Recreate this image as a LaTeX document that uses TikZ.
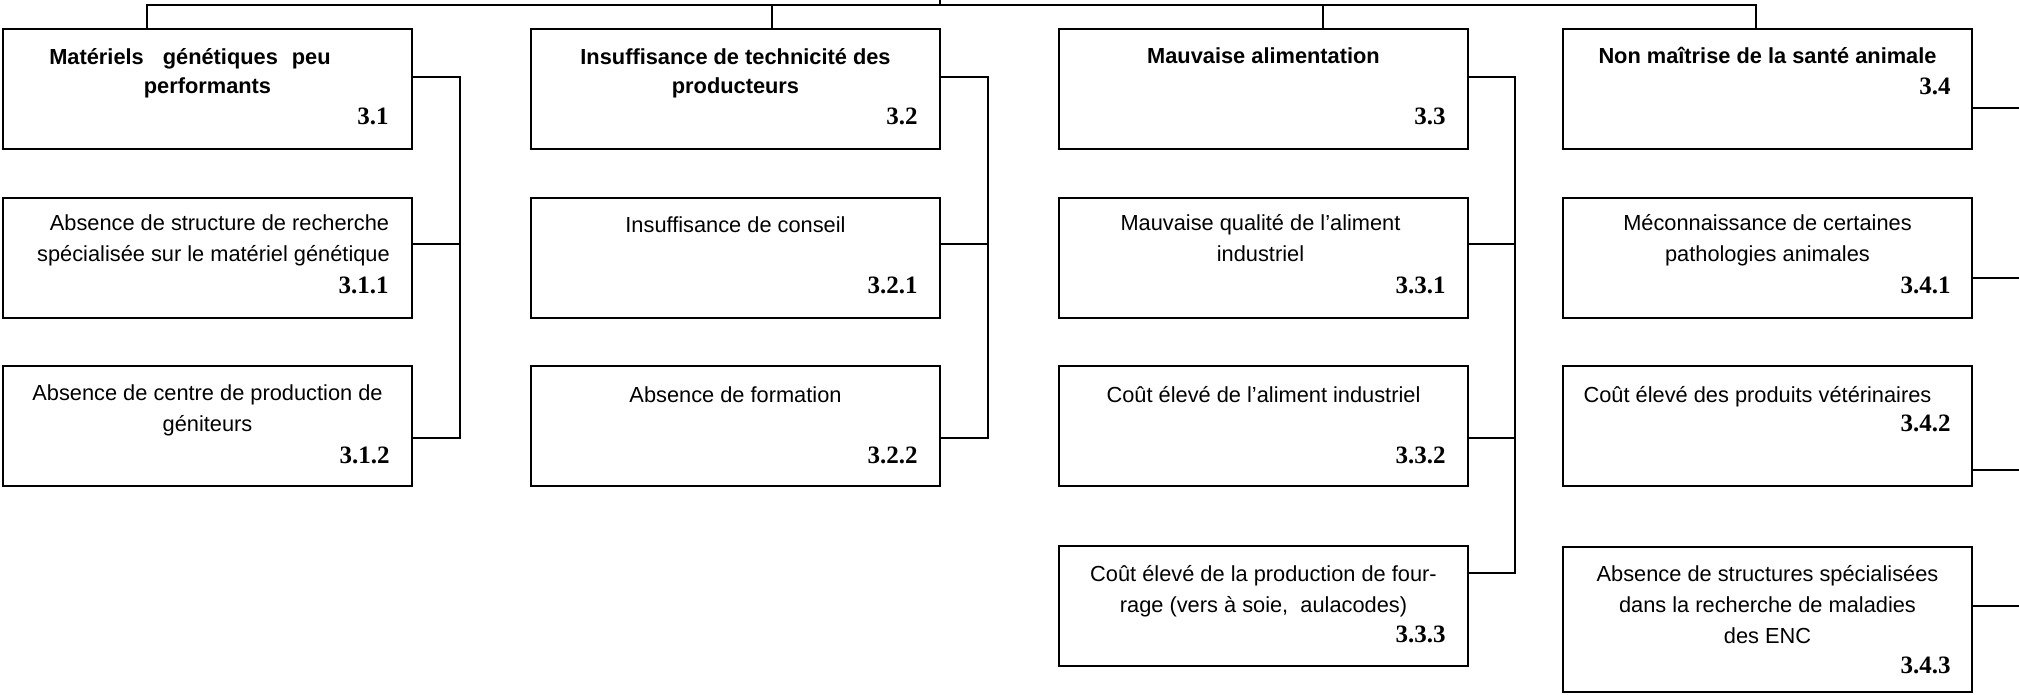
\documentclass[tikz,border=0pt]{standalone}
\usepackage{fontspec}
\setmainfont{Liberation Sans}
\newfontfamily\numfont{Liberation Serif}
\usetikzlibrary{positioning, calc}

\tikzset{
  cause/.style={draw, line width=1pt, minimum width=204.5pt, minimum height=60pt, inner sep=0pt, outer sep=0pt},
  head/.style={anchor=base, align=center, inner sep=0pt, font=\fontsize{10.9}{14.8}\selectfont\bfseries},
  txt/.style={anchor=base, align=center, inner sep=0pt, font=\fontsize{10.9}{15.5}\selectfont},
  num/.style={anchor=base east, inner sep=0pt, font=\numfont\fontsize{12.5}{15}\selectfont\bfseries},
  link/.style={line width=1pt}
}

\begin{document}
\begin{tikzpicture}[x=0.5pt, y=-0.5pt]
\useasboundingbox (0,0) rectangle (2019,695);

% first level causes
\node[cause, anchor=north west] (b31) at (3,29) {};
\node[cause, right=59.5pt of b31] (b32) {};
\node[cause, right=59.5pt of b32] (b33) {};
\node[cause, right=47.5pt of b33] (b34) {};

% second level causes
\node[cause, below=24.5pt of b31] (b311) {};
\node[cause, below=24pt of b311] (b312) {};
\node[cause, below=24.5pt of b32] (b321) {};
\node[cause, below=24pt of b321] (b322) {};
\node[cause, below=24.5pt of b33] (b331) {};
\node[cause, below=24pt of b331] (b332) {};
\node[cause, below=30pt of b332] (b333) {};
\node[cause, below=24.5pt of b34] (b341) {};
\node[cause, below=24pt of b341] (b342) {};
\node[cause, below=30.5pt of b342, minimum height=72.5pt] (b343) {};

% texts (base = last line)
\node[head] (t31) at ($(b31.north)+(0,65)$) {Matériels\hspace{9.5pt}génétiques\hspace{7pt}peu\rule{17.5pt}{0pt}\\performants};
\node[head] (t32) at ($(b32.north)+(0,65)$) {Insuffisance de technicité des\\producteurs};
\node[head] (t33) at ($(b33.north)+(0,35)$) {Mauvaise alimentation};
\node[head] (t34) at ($(b34.north)+(0,35)$) {Non maîtrise de la santé animale};

\node[txt] (t311) at ($(b311.north)+(6,64)$) {\hspace{6pt}Absence de structure de recherche\\spécialisée sur le matériel génétique};
\node[txt] (t312) at ($(b312.north)+(0,65)$) {Absence de centre de production de\\géniteurs};
\node[txt] (t321) at ($(b321.north)+(0,35)$) {Insuffisance de conseil};
\node[txt] (t322) at ($(b322.north)+(0,36)$) {Absence de formation};
\node[txt] (t331) at ($(b331.north)+(-3,64)$) {Mauvaise qualité de l’aliment\\industriel};
\node[txt] (t332) at ($(b332.north)+(0,36)$) {Coût élevé de l’aliment industriel};
\node[txt] (t333) at ($(b333.north)+(0,66)$) {Coût élevé de la production de four-\\rage (vers à soie,\ \ aulacodes)};
\node[txt] (t341) at ($(b341.north)+(0,64)$) {Méconnaissance de certaines\\pathologies animales};
\node[txt] (t342) at ($(b342.north)+(-10,36)$) {Coût élevé des produits vétérinaires};
\node[txt] (t343) at ($(b343.north)+(0,96)$) {Absence de structures spécialisées\\dans la recherche de maladies\\des ENC};

% numbers
\node[num] (n31) at ($(b31.north east)+(-23,96)$) {3.1};
\node[num] (n32) at ($(b32.north east)+(-22,96)$) {3.2};
\node[num] (n33) at ($(b33.north east)+(-22,96)$) {3.3};
\node[num] (n34) at ($(b34.north east)+(-21,66)$) {3.4};
\node[num] (n311) at ($(b311.north east)+(-23,95)$) {3.1.1};
\node[num] (n312) at ($(b312.north east)+(-22,97)$) {3.1.2};
\node[num] (n321) at ($(b321.north east)+(-22,95)$) {3.2.1};
\node[num] (n322) at ($(b322.north east)+(-22,97)$) {3.2.2};
\node[num] (n331) at ($(b331.north east)+(-22,95)$) {3.3.1};
\node[num] (n332) at ($(b332.north east)+(-22,97)$) {3.3.2};
\node[num] (n333) at ($(b333.north east)+(-22,96)$) {3.3.3};
\node[num] (n341) at ($(b341.north east)+(-21,95)$) {3.4.1};
\node[num] (n342) at ($(b342.north east)+(-21,65)$) {3.4.2};
\node[num] (n343) at ($(b343.north east)+(-21,126)$) {3.4.3};

% top bus
\coordinate (up) at ($(b32.north east)+(0,-40)$);
\draw[link] ($(b31.north west)+(144,0)$) -- ++(0,-24) -| ($(b34.north west)+(193,0)$);
\draw[link] ($(b32.north west)+(241,0)$) -- ++(0,-24);
\draw[link] ($(b33.north west)+(264,0)$) -- ++(0,-24);
\draw[link] ($(b32.north east)+(0,-24)$) -- (up);

% side links
\draw[link] (b31.north east) ++(0,48) -- ++(48,0) |- ($(b312.north east)+(0,72)$);
\draw[link] (b311.north east) ++(0,46) -- ++(48,0);
\draw[link] (b32.north east) ++(0,48) -- ++(48,0) |- ($(b322.north east)+(0,72)$);
\draw[link] (b321.north east) ++(0,46) -- ++(48,0);
\draw[link] (b33.north east) ++(0,48) -- ++(47,0) |- ($(b333.north east)+(0,27)$);
\draw[link] (b331.north east) ++(0,46) -- ++(47,0);
\draw[link] (b332.north east) ++(0,72) -- ++(47,0);
\draw[link] (b34.north east) ++(0,79) -- ++(48.5,0) |- ($(b343.north east)+(0,59)$);
\draw[link] (b341.north east) ++(0,80) -- ++(48.5,0);
\draw[link] (b342.north east) ++(0,104) -- ++(48.5,0);

\end{tikzpicture}
\end{document}
